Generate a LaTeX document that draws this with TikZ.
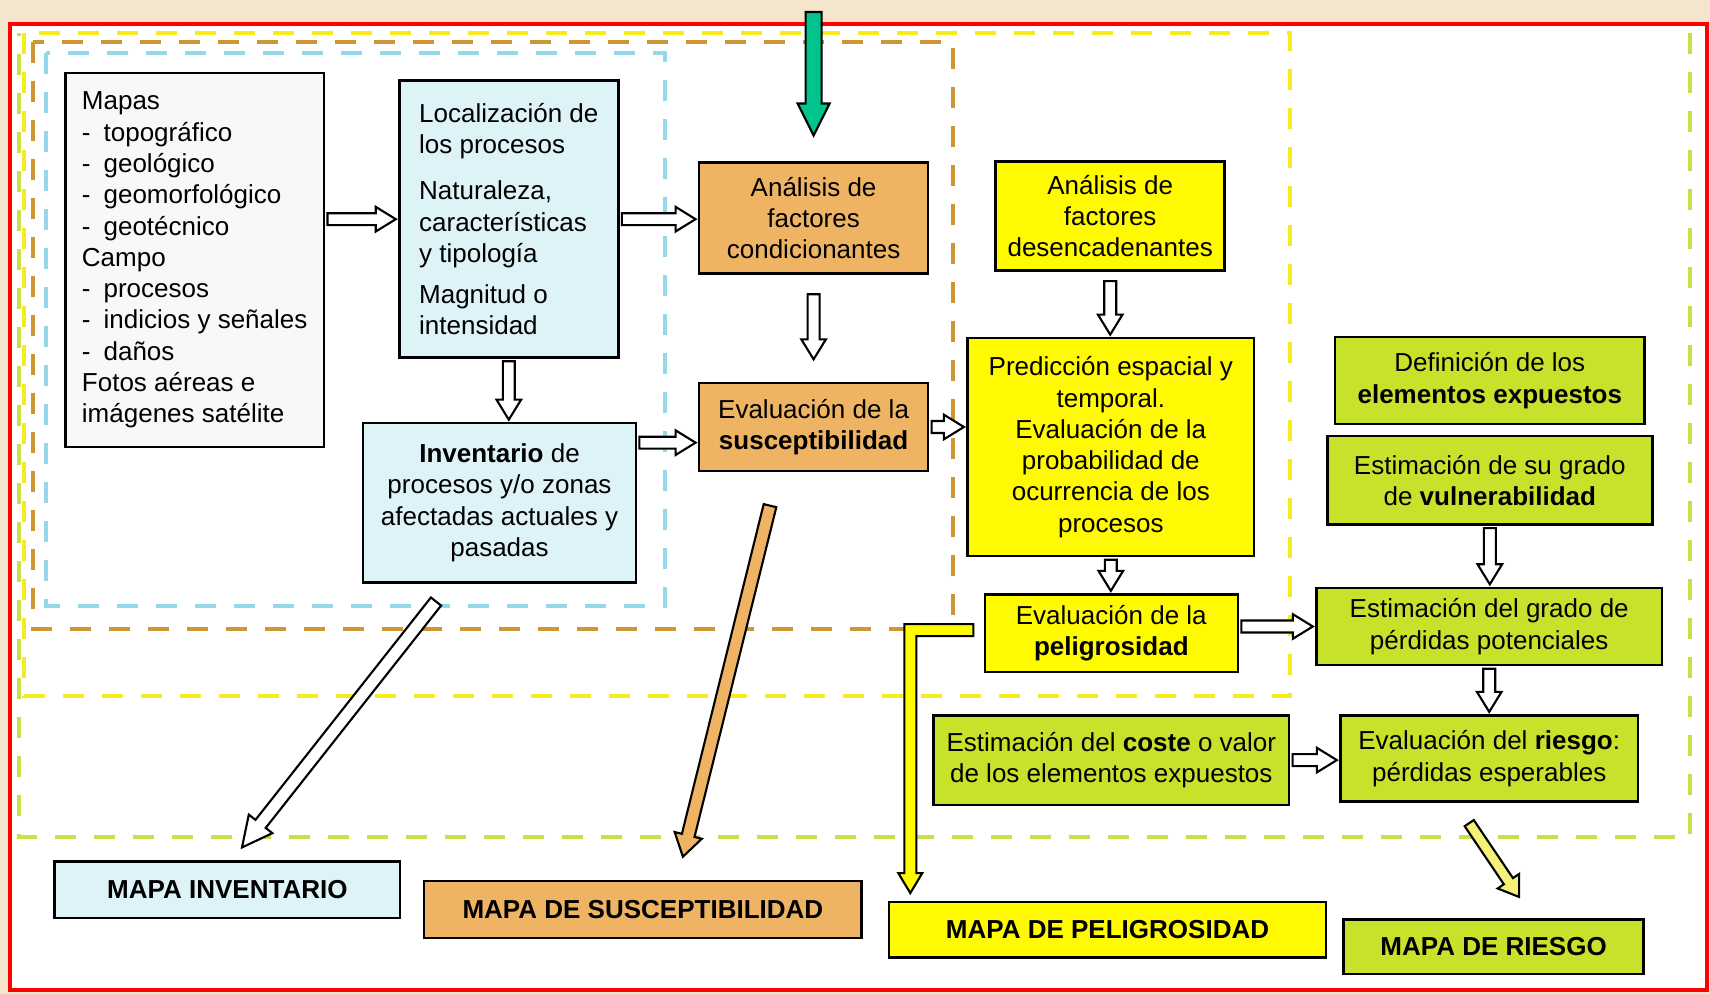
\documentclass[tikz,border=0pt]{standalone}
\usepackage{fontspec}
\setmainfont{Liberation Sans}
\usetikzlibrary{calc}
\definecolor{paper}{RGB}{244,230,205}
\definecolor{frameRed}{RGB}{255,0,0}
\definecolor{mapasBox}{RGB}{248,248,246}
\definecolor{cyanBox}{RGB}{222,243,248}
\definecolor{orangeBox}{RGB}{238,180,100}
\definecolor{yellowBox}{RGB}{255,250,0}
\definecolor{limeBox}{RGB}{200,226,44}
\definecolor{greenArrow}{RGB}{0,196,140}
\definecolor{paleArrow}{RGB}{245,240,120}
\definecolor{dashYellow}{RGB}{245,235,30}
\definecolor{dashBrown}{RGB}{205,150,50}
\definecolor{dashCyan}{RGB}{150,215,235}
\definecolor{dashLime}{RGB}{200,225,70}
\tikzset{
    every node/.append style={align=center},
    box/.style={rectangle,draw=black,line width=0.7pt,inner sep=2pt,outer sep=1pt,
        font=\fontsize{7.4}{8.9}\selectfont},
    lbox/.style={box,align=left},
    mapa/.style={box,font=\fontsize{7.4}{8.9}\selectfont\bfseries},
    zone/.style={line width=1.1pt,dash pattern=on 0.21cm off 0.18cm}
}
% hollow block arrow: [fill]{shaft half width}{head half width}{head length}{from}{to}
\newcommand{\blockarrow}[6][white]{%
    \filldraw[fill=#1,draw=black,line width=0.6pt,line join=miter]
        ($(#5)!#2!90:(#6)$) --
        ($(#6)!#4!(#5)!#2!-90:(#5)$) --
        ($(#6)!#4!(#5)!#3!-90:(#5)$) --
        (#6) --
        ($(#6)!#4!(#5)!#3!90:(#5)$) --
        ($(#6)!#4!(#5)!#2!90:(#5)$) --
        ($(#5)!#2!-90:(#6)$) -- cycle;}
\newcommand{\sarrow}[2]{\blockarrow{1.7pt}{3.5pt}{0.2cm}{#1}{#2}}

\begin{document}
\begin{tikzpicture}
    \useasboundingbox (0,0) rectangle (17.10,-9.94);
    \fill[paper] (0,0) rectangle (17.10,-9.94);
    \fill[white] (0.10,-0.24) rectangle (17.07,-9.90);

    % dashed zones
    \draw[zone,dashLime] (16.90,-0.33) -- (16.90,-8.37) -- (0.19,-8.37) -- (0.19,-0.33);
    \draw[zone,dashYellow] (0.24,-0.33) rectangle (12.90,-6.96);
    \draw[zone,dashBrown] (0.33,-0.42) rectangle (9.53,-6.29);
    \draw[zone,dashCyan] (0.46,-0.53) rectangle (6.65,-6.06);

    % inventory and susceptibility
    \node[lbox,fill=mapasBox,minimum width=2.585cm,minimum height=3.74cm] (mapas) at (1.947,-2.601)
        {Mapas\\-\enspace topográfico\\-\enspace geológico\\-\enspace geomorfológico\\-\enspace geotécnico\\
         Campo\\-\enspace procesos\\-\enspace indicios y señales\\-\enspace daños\\Fotos aéreas e\\imágenes satélite};
    \node[lbox,fill=cyanBox,minimum width=2.19cm,minimum height=2.77cm] (loc) at (5.088,-2.192)
        {Localización de\\los procesos\\[4.3pt]Naturaleza,\\características\\y tipología\\[2.8pt]Magnitud o\\intensidad};
    \node[box,fill=cyanBox,minimum width=2.726cm,minimum height=1.592cm] (inv) at (4.995,-5.028)
        {\textbf{Inventario} de\\procesos y/o zonas\\afectadas actuales y\\pasadas};
    \node[box,fill=orangeBox,minimum width=2.29cm,minimum height=1.112cm] (cond) at (8.136,-2.181)
        {Análisis de\\factores\\condicionantes};
    \node[box,fill=orangeBox,minimum width=2.29cm,minimum height=0.883cm] (susc) at (8.136,-4.270)
        {Evaluación de la\\\textbf{susceptibilidad}};
    % hazard
    \node[box,fill=yellowBox,minimum width=2.29cm,minimum height=1.091cm] (desenc) at (11.102,-2.160)
        {Análisis de\\factores\\desencadenantes};
    \node[box,fill=yellowBox,minimum width=2.868cm,minimum height=2.181cm] (pred) at (11.108,-4.472)
        {Predicción espacial y\\temporal.\\Evaluación de la\\probabilidad de\\ocurrencia de los\\procesos};
    \node[box,fill=yellowBox,minimum width=2.53cm,minimum height=0.774cm] (pelig) at (11.113,-6.331)
        {Evaluación de la\\\textbf{peligrosidad}};
    % risk
    \node[box,fill=limeBox,minimum width=3.097cm,minimum height=0.872cm] (expu) at (14.898,-3.806)
        {Definición de los\\\textbf{elementos expuestos}};
    \node[box,fill=limeBox,minimum width=3.25cm,minimum height=0.883cm] (vuln) at (14.898,-4.804)
        {Estimación de su grado\\de \textbf{vulnerabilidad}};
    \node[box,fill=limeBox,minimum width=3.457cm,minimum height=0.774cm] (perd) at (14.892,-6.265)
        {Estimación del grado de\\pérdidas potenciales};
    \node[box,fill=limeBox,minimum width=2.977cm,minimum height=0.862cm] (riesgo) at (14.892,-7.585)
        {Evaluación del \textbf{riesgo}:\\pérdidas esperables};
    \node[box,fill=limeBox,minimum width=3.555cm,minimum height=0.894cm] (coste) at (11.113,-7.601)
        {Estimación del \textbf{coste} o valor\\de los elementos expuestos};
    % maps
    \node[mapa,fill=cyanBox,minimum width=3.457cm,minimum height=0.567cm]   (mapinv)    at ( 2.274,-8.899) {MAPA INVENTARIO};
    \node[mapa,fill=orangeBox,minimum width=4.373cm,minimum height=0.567cm] (mapsusc)   at ( 6.429,-9.096) {MAPA DE SUSCEPTIBILIDAD};
    \node[mapa,fill=yellowBox,minimum width=4.373cm,minimum height=0.556cm] (mappel)    at (11.075,-9.297) {MAPA DE PELIGROSIDAD};
    \node[mapa,fill=limeBox,minimum width=2.999cm,minimum height=0.545cm]   (mapriesgo) at (14.936,-9.467) {MAPA DE RIESGO};

    \draw[frameRed,line width=1.2pt] (0.10,-0.24) rectangle (17.07,-9.90);

    % small flow arrows
    \coordinate (a4) at ([yshift=-0.23cm]inv.north east);
    \sarrow{mapas.east |- loc.west}{loc.west}
    \sarrow{loc.east}{loc.east -| cond.west}
    \sarrow{loc.south}{loc.south |- inv.north}
    \sarrow{a4}{a4 -| susc.west}
    \sarrow{[yshift=-0.17cm]cond.south}{[yshift=0.2cm]susc.north}
    \sarrow{susc.east}{susc.east -| pred.west}
    \sarrow{[yshift=-2pt]desenc.south}{desenc.south |- pred.north}
    \sarrow{pred.south}{pred.south |- pelig.north}
    \sarrow{pelig.east |- perd.west}{perd.west}
    \sarrow{vuln.south}{vuln.south |- perd.north}
    \sarrow{perd.south}{perd.south |- riesgo.north}
    \sarrow{coste.east}{coste.east -| riesgo.west}

    % arrows to the maps
    \blockarrow{0.065cm}{0.15cm}{0.3cm}{[shift={(-0.635,-0.156)}]inv.south}{[shift={(0.146,0.106)}]mapinv.north}
    \blockarrow[orangeBox]{0.065cm}{0.14cm}{0.22cm}{[shift={(-0.436,-0.31)}]susc.south}{[shift={(0.40,0.21)}]mapsusc.north}
    \blockarrow[paleArrow]{0.055cm}{0.13cm}{0.19cm}{[shift={(-0.20,-0.18)}]riesgo.south}{[shift={(0.254,0.19)}]mapriesgo.north}
    \filldraw[fill=yellowBox,draw=black,line width=0.6pt,line join=miter]
        ([shift={(-0.08,0.09)}]pelig.west) -- ++(-0.69,0) -- ++(0,-2.49) -- ++(-0.06,0)
        -- ++(0.12,-0.20) -- ++(0.12,0.20) -- ++(-0.06,0) -- ++(0,2.37) -- ++(0.57,0) -- cycle;

    % input arrow
    \coordinate (entrada) at (cond.north |- 0,-0.12);
    \blockarrow[greenArrow]{0.08cm}{0.16cm}{0.32cm}{entrada}{[yshift=0.235cm]cond.north}
\end{tikzpicture}
\end{document}
